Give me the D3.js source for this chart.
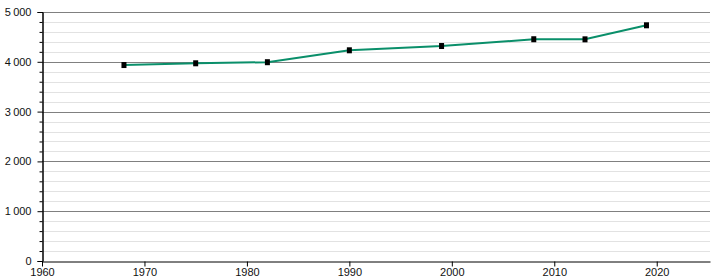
<!DOCTYPE html>
<html><head><meta charset="utf-8">
<script src="https://cdn.jsdelivr.net/npm/d3@7"></script>
<style>body{margin:0;background:#fff}svg text{font-family:"Liberation Sans",Arial,sans-serif;font-size:11px;fill:#111}</style>
</head><body><svg id="c" width="720" height="280"></svg>
<script>
const years = [1968, 1975, 1982, 1990, 1999, 2008, 2013, 2019];
const population = [3935, 3970, 3992, 4231, 4317, 4453, 4451, 4733];
const yTicks = [0, 1000, 2000, 3000, 4000, 5000];
const xTicks = [1960, 1970, 1980, 1990, 2000, 2010, 2020];

const svg = d3.select("#c");
const x = d3.scaleLinear().domain([1960, 2025.2]).range([42, 710]);
const y = d3.scaleLinear().domain([0, 5000]).range([261, 12]);
const fmt = v => d3.format(",")(v).replace(/,/g, "\u202F");

const minor = d3.range(0, 5001, 200).filter(v => v % 1000 !== 0);
svg.append("g").selectAll("line").data(minor).join("line")
  .attr("x1", x(1960)).attr("x2", x(2025.2))
  .attr("y1", d => Math.round(y(d)) + 0.5).attr("y2", d => Math.round(y(d)) + 0.5)
  .attr("stroke", "#e2e2e2").attr("stroke-width", 1);
svg.append("g").selectAll("line").data(yTicks.filter(v => v > 0)).join("line")
  .attr("x1", x(1960)).attr("x2", x(2025.2))
  .attr("y1", d => Math.round(y(d)) + 0.5).attr("y2", d => Math.round(y(d)) + 0.5)
  .attr("stroke", "#808080").attr("stroke-width", 1);

// y axis
const ya = svg.append("g").attr("transform", "translate(42.5,0)");
ya.call(d3.axisLeft(y).tickValues(yTicks).tickSize(5).tickFormat(fmt));
ya.append("g").call(d3.axisLeft(y).tickValues(minor).tickSize(3).tickFormat(""));
ya.selectAll(".domain").attr("stroke", "#000");
ya.selectAll("text").attr("x", -11).attr("fill", "#111").style("font-size", "11px");

// x axis
const xa = svg.append("g").attr("transform", "translate(0," + (261.5) + ")");
xa.call(d3.axisBottom(x).tickValues(xTicks).tickSize(5).tickFormat(d3.format("d")).tickSizeOuter(0));
xa.selectAll(".domain").attr("stroke", "#000");
xa.selectAll("text").attr("y", 7).attr("fill", "#111").style("font-size", "11px");

const pts = years.map((yr, i) => [yr, population[i]]);
svg.append("path").datum(pts)
  .attr("d", d3.line().x(d => x(d[0])).y(d => y(d[1])))
  .attr("fill", "none").attr("stroke", "#0a8f6a").attr("stroke-width", 2);
svg.append("g").selectAll("rect").data(pts).join("rect")
  .attr("x", d => x(d[0]) - 2.5).attr("y", d => y(d[1]) - 3)
  .attr("width", 5).attr("height", 6).attr("fill", "#000");
</script></body></html>
